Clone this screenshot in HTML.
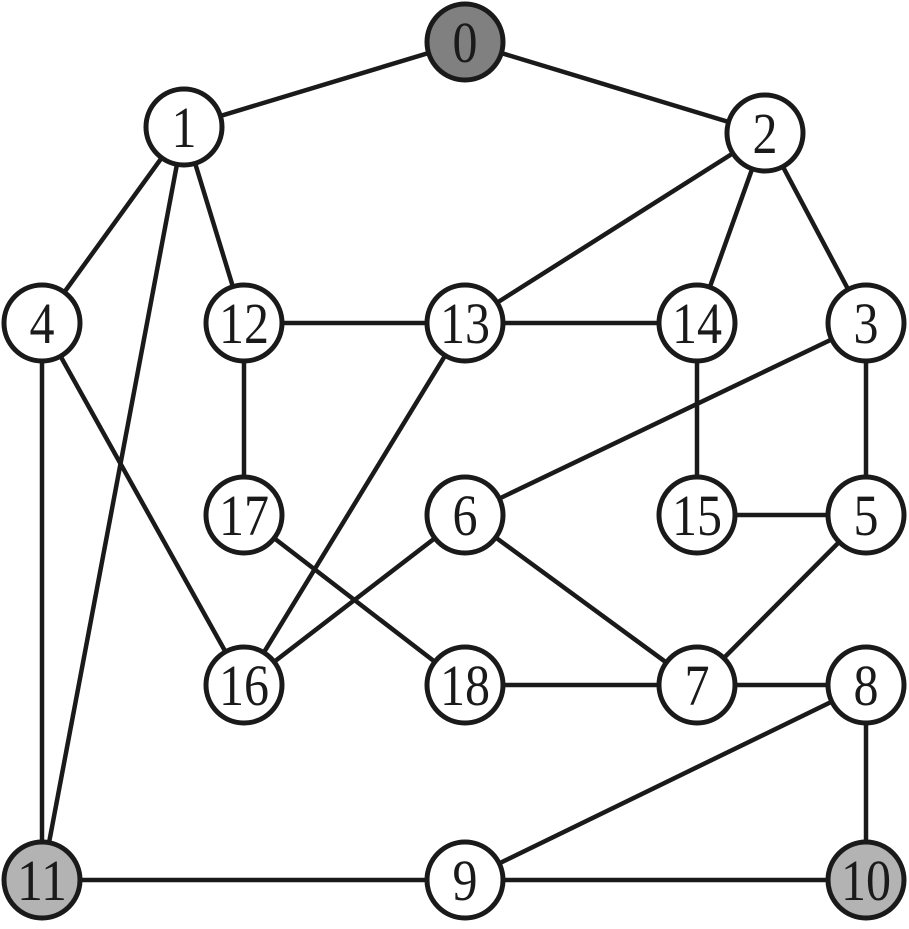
<!DOCTYPE html>
<html><head><meta charset="utf-8"><style>html,body{margin:0;padding:0;background:#fff}</style></head>
<body>
<svg width="909" height="924" viewBox="0 0 909 924" xmlns="http://www.w3.org/2000/svg">
<g stroke="#1a1a1a" stroke-width="4.5" fill="none">
<line x1="465" y1="42" x2="184" y2="127"/>
<line x1="465" y1="42" x2="765" y2="133"/>
<line x1="184" y1="127" x2="42" y2="323"/>
<line x1="184" y1="127" x2="244" y2="323"/>
<line x1="184" y1="127" x2="42" y2="880"/>
<line x1="765" y1="133" x2="465" y2="323"/>
<line x1="765" y1="133" x2="697" y2="323"/>
<line x1="765" y1="133" x2="866" y2="323"/>
<line x1="42" y1="323" x2="42" y2="880"/>
<line x1="42" y1="323" x2="244" y2="685"/>
<line x1="244" y1="323" x2="465" y2="323"/>
<line x1="465" y1="323" x2="697" y2="323"/>
<line x1="244" y1="323" x2="244" y2="515"/>
<line x1="465" y1="323" x2="244" y2="685"/>
<line x1="697" y1="323" x2="697" y2="515"/>
<line x1="866" y1="323" x2="465" y2="515"/>
<line x1="866" y1="323" x2="866" y2="515"/>
<line x1="697" y1="515" x2="866" y2="515"/>
<line x1="465" y1="515" x2="244" y2="685"/>
<line x1="465" y1="515" x2="697" y2="685"/>
<line x1="244" y1="515" x2="465" y2="685"/>
<line x1="866" y1="515" x2="697" y2="685"/>
<line x1="465" y1="685" x2="697" y2="685"/>
<line x1="697" y1="685" x2="866" y2="685"/>
<line x1="866" y1="685" x2="465" y2="880"/>
<line x1="866" y1="685" x2="866" y2="880"/>
<line x1="42" y1="880" x2="465" y2="880"/>
<line x1="465" y1="880" x2="866" y2="880"/>
</g>
<g stroke="#1a1a1a" stroke-width="5">
<circle cx="465" cy="42" r="38" fill="#808080"/>
<circle cx="184" cy="127" r="38" fill="#fff"/>
<circle cx="765" cy="133" r="38" fill="#fff"/>
<circle cx="42" cy="323" r="38" fill="#fff"/>
<circle cx="244" cy="323" r="38" fill="#fff"/>
<circle cx="465" cy="323" r="38" fill="#fff"/>
<circle cx="697" cy="323" r="38" fill="#fff"/>
<circle cx="866" cy="323" r="38" fill="#fff"/>
<circle cx="244" cy="515" r="38" fill="#fff"/>
<circle cx="465" cy="515" r="38" fill="#fff"/>
<circle cx="697" cy="515" r="38" fill="#fff"/>
<circle cx="866" cy="515" r="38" fill="#fff"/>
<circle cx="244" cy="685" r="38" fill="#fff"/>
<circle cx="465" cy="685" r="38" fill="#fff"/>
<circle cx="697" cy="685" r="38" fill="#fff"/>
<circle cx="866" cy="685" r="38" fill="#fff"/>
<circle cx="42" cy="880" r="38" fill="#b3b3b3"/>
<circle cx="465" cy="880" r="38" fill="#fff"/>
<circle cx="866" cy="880" r="38" fill="#b3b3b3"/>
</g>
<g font-family="Liberation Serif, serif" font-size="58" fill="#1a1a1a" text-anchor="middle" lengthAdjust="spacingAndGlyphs">
<text x="465" y="62" textLength="25" lengthAdjust="spacingAndGlyphs">0</text>
<text x="184" y="147" textLength="25" lengthAdjust="spacingAndGlyphs">1</text>
<text x="765" y="153" textLength="25" lengthAdjust="spacingAndGlyphs">2</text>
<text x="42" y="343" textLength="25" lengthAdjust="spacingAndGlyphs">4</text>
<text x="244" y="343" textLength="50" lengthAdjust="spacingAndGlyphs">12</text>
<text x="465" y="343" textLength="50" lengthAdjust="spacingAndGlyphs">13</text>
<text x="697" y="343" textLength="50" lengthAdjust="spacingAndGlyphs">14</text>
<text x="866" y="343" textLength="25" lengthAdjust="spacingAndGlyphs">3</text>
<text x="244" y="535" textLength="50" lengthAdjust="spacingAndGlyphs">17</text>
<text x="465" y="535" textLength="25" lengthAdjust="spacingAndGlyphs">6</text>
<text x="697" y="535" textLength="50" lengthAdjust="spacingAndGlyphs">15</text>
<text x="866" y="535" textLength="25" lengthAdjust="spacingAndGlyphs">5</text>
<text x="244" y="705" textLength="50" lengthAdjust="spacingAndGlyphs">16</text>
<text x="465" y="705" textLength="50" lengthAdjust="spacingAndGlyphs">18</text>
<text x="697" y="705" textLength="25" lengthAdjust="spacingAndGlyphs">7</text>
<text x="866" y="705" textLength="25" lengthAdjust="spacingAndGlyphs">8</text>
<text x="42" y="900" textLength="50" lengthAdjust="spacingAndGlyphs">11</text>
<text x="465" y="900" textLength="25" lengthAdjust="spacingAndGlyphs">9</text>
<text x="866" y="900" textLength="50" lengthAdjust="spacingAndGlyphs">10</text>
</g>
</svg>
</body></html>
